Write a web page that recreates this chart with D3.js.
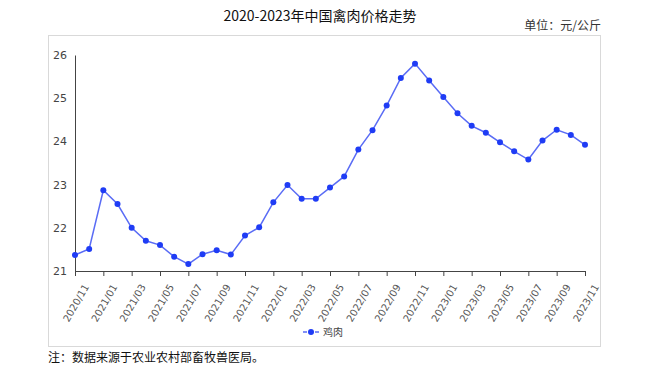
<!DOCTYPE html>
<html>
<head>
<meta charset="utf-8">
<script src="https://cdn.jsdelivr.net/npm/d3@7"></script>
<style>
  body { margin: 0; background: #fff; }
  svg { display: block; font-family: "Noto Sans CJK SC", "DejaVu Sans", sans-serif; }
</style>
</head>
<body>
<div id="chart"></div>
<script>
// 月份
const months = [
  "2020/11", "2020/12",
  "2021/01", "2021/02", "2021/03", "2021/04", "2021/05", "2021/06",
  "2021/07", "2021/08", "2021/09", "2021/10", "2021/11", "2021/12",
  "2022/01", "2022/02", "2022/03", "2022/04", "2022/05", "2022/06",
  "2022/07", "2022/08", "2022/09", "2022/10", "2022/11", "2022/12",
  "2023/01", "2023/02", "2023/03", "2023/04", "2023/05", "2023/06",
  "2023/07", "2023/08", "2023/09", "2023/10", "2023/11"
];
// 鸡肉价格（元/公斤）
const chicken = [
  21.37, 21.51,
  22.87, 22.55, 22.00, 21.70, 21.60, 21.33,
  21.16, 21.39, 21.48, 21.38, 21.82, 22.01,
  22.59, 22.99, 22.67, 22.67, 22.93, 23.19,
  23.81, 24.26, 24.83, 25.47, 25.80, 25.41,
  25.03, 24.65, 24.36, 24.20, 23.98, 23.77,
  23.58, 24.02, 24.27, 24.15, 23.92
];
const yTicks = [21, 22, 23, 24, 25, 26];
const seriesName = "鸡肉";

const width = 652, height = 373;
const margin = { left: 75, right: 67, top: 55, bottom: 102 };

const svg = d3.select("#chart").append("svg")
  .attr("width", width)
  .attr("height", height);

// 外框
svg.append("rect")
  .attr("x", 48.5).attr("y", 35.5)
  .attr("width", 552).attr("height", 311)
  .attr("fill", "none")
  .attr("stroke", "#d9d9d9");

// 标题
svg.append("text")
  .attr("x", 320).attr("y", 21)
  .attr("text-anchor", "middle")
  .attr("font-size", 14)
  .attr("fill", "#111")
  .text("2020-2023年中国禽肉价格走势");

svg.append("text")
  .attr("x", 601).attr("y", 30)
  .attr("text-anchor", "end")
  .attr("font-size", 12)
  .attr("fill", "#333")
  .text("单位：元/公斤");

const x = d3.scalePoint()
  .domain(months)
  .range([margin.left, width - margin.right]);

const y = d3.scaleLinear()
  .domain([21, 26])
  .range([height - margin.bottom, margin.top]);

// y 轴
const yAxis = svg.append("g")
  .attr("transform", `translate(${margin.left},0)`)
  .call(d3.axisLeft(y).tickValues(yTicks).tickFormat(d3.format("d")).tickSize(0).tickPadding(8));
yAxis.select(".domain").attr("stroke", "#444");
yAxis.selectAll("text")
  .attr("font-size", 11)
  .attr("fill", "#444")
  .attr("font-family", "DejaVu Sans, sans-serif");

// x 轴
const xAxis = svg.append("g")
  .attr("transform", `translate(0,${height - margin.bottom})`)
  .call(d3.axisBottom(x)
    .tickValues(months.filter((d, i) => i % 2 === 0))
    .tickSizeOuter(0)
    .tickSize(5));
xAxis.select(".domain").attr("stroke", "#444");
xAxis.selectAll(".tick line").attr("stroke", "#444");
xAxis.selectAll("text")
  .attr("font-size", 10)
  .attr("fill", "#555")
  .attr("font-family", "DejaVu Sans, sans-serif")
  .attr("text-anchor", "end")
  .attr("dy", "0.35em")
  .attr("transform", "translate(4,10) rotate(-60)");

// 折线
const line = d3.line()
  .x((d, i) => x(months[i]))
  .y(d => y(d));

svg.append("path")
  .datum(chicken)
  .attr("fill", "none")
  .attr("stroke", "#5a6cf5")
  .attr("stroke-width", 1.5)
  .attr("d", line);

svg.selectAll("circle.pt")
  .data(chicken)
  .enter()
  .append("circle")
  .attr("class", "pt")
  .attr("cx", (d, i) => x(months[i]))
  .attr("cy", d => y(d))
  .attr("r", 3)
  .attr("fill", "#1f3cf5");

// 图例
const legend = svg.append("g").attr("transform", "translate(303,332)");
legend.append("line")
  .attr("x1", 0).attr("x2", 16)
  .attr("stroke", "#5a6cf5")
  .attr("stroke-width", 1.5)
  .attr("stroke-dasharray", "4,2");
legend.append("circle")
  .attr("cx", 8).attr("r", 3)
  .attr("fill", "#1f3cf5");
legend.append("text")
  .attr("x", 20).attr("dy", "0.35em")
  .attr("font-size", 10)
  .attr("fill", "#444")
  .text(seriesName);

// 注
svg.append("text")
  .attr("x", 48).attr("y", 362)
  .attr("font-size", 12)
  .attr("fill", "#111")
  .text("注：数据来源于农业农村部畜牧兽医局。");
</script>
</body>
</html>
